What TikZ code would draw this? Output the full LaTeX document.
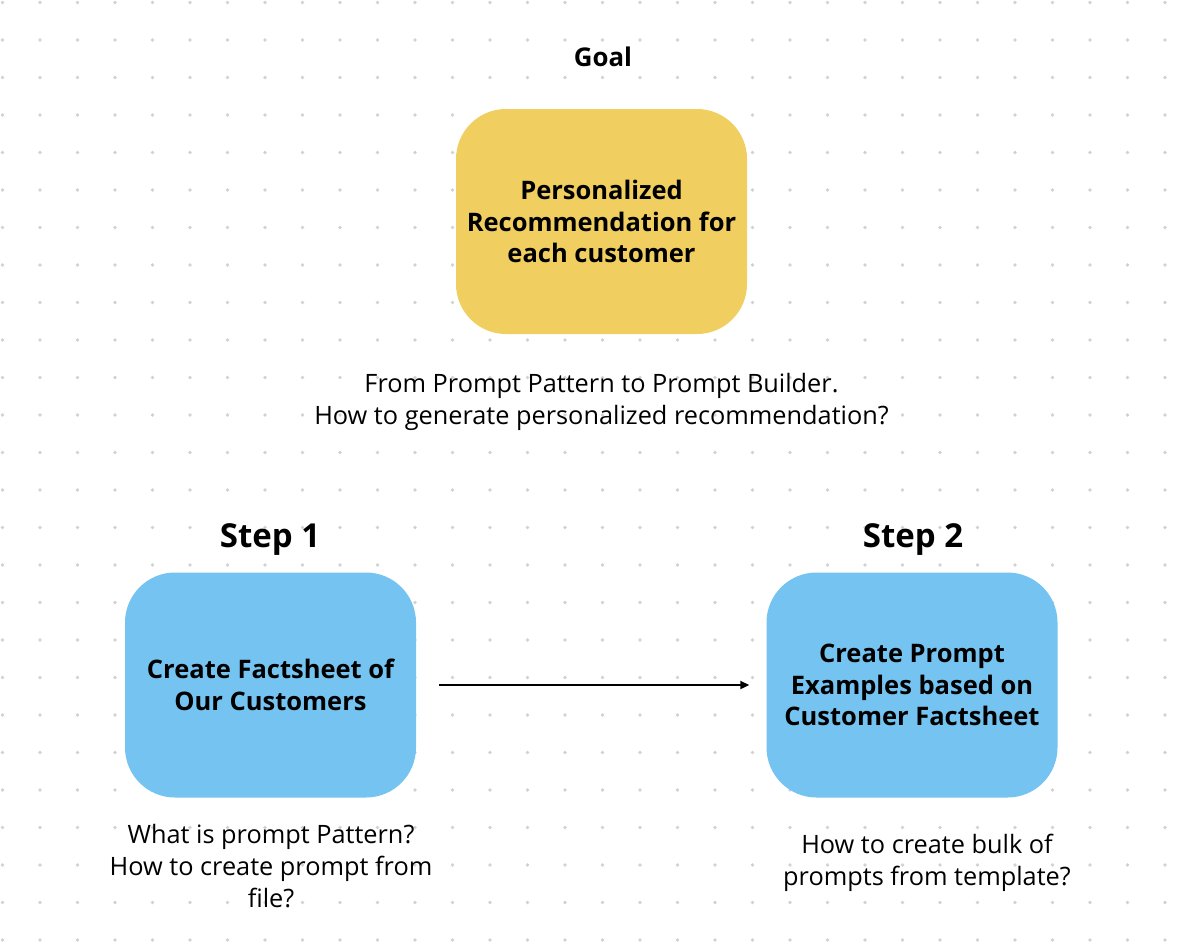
\documentclass[tikz,border=0pt]{standalone}
\usepackage{fontspec}
\setmainfont{Open Sans}
\usetikzlibrary{arrows.meta}
\definecolor{goalyellow}{RGB}{240,206,96}
\definecolor{stepblue}{RGB}{116,195,240}
\definecolor{gridgray}{RGB}{210,210,210}

\begin{document}
\begin{tikzpicture}[x=1pt,y=-1pt]
 \tikzstyle{card}=[rectangle, rounded corners=50pt, minimum width=291pt, minimum height=225pt, inner sep=0pt, align=center, font=\bfseries\fontsize{25.5}{31.5}\selectfont]
 \tikzstyle{head}=[font=\bfseries\fontsize{33}{38}\selectfont]
 \tikzstyle{note}=[align=center, font=\fontsize{25.3}{32}\selectfont]
 \tikzstyle{estep}=[-{Triangle[length=9pt,width=8pt]}, line width=2pt]
 \useasboundingbox (0,0) rectangle (1188,946);
 % dotted canvas
 \foreach \i in {0,...,31}
  \foreach \j in {0,...,25}
   \fill[gridgray] (2.5+37.5*\i, 2.5+37.5*\j) circle (1.8pt);
 %
 \node[font=\bfseries\fontsize{25.8}{30}\selectfont] (goal) at (603, 57) {Goal};
 \node[card, fill=goalyellow] (reco) at (601.5, 221.5) {Personalized\\Recommendation for\\each customer};
 \node[note] (recoq) at (601.5, 402) {From Prompt Pattern to Prompt Builder.\\How to generate personalized recommendation?};
 %
 \node[head] (step1) at (270, 540) {Step 1};
 \node[head] (step2) at (913, 540) {Step 2};
 \node[card, fill=stepblue] (facts) at (270.5, 685) {Create Factsheet of\\Our Customers};
 \node[card, fill=stepblue] (prompts) at (912, 685) {Create Prompt\\Examples based on\\Customer Factsheet};
 \node[note] (factsq) at (271, 866) {What is prompt Pattern?\\How to create prompt from\\file?};
 \node[note] (promptsq) at (927, 863) {How to create bulk of\\prompts from template?};
 %%
 \draw[estep, shorten <=23pt, shorten >=17pt] (facts)--(prompts);
\end{tikzpicture}
\end{document}
